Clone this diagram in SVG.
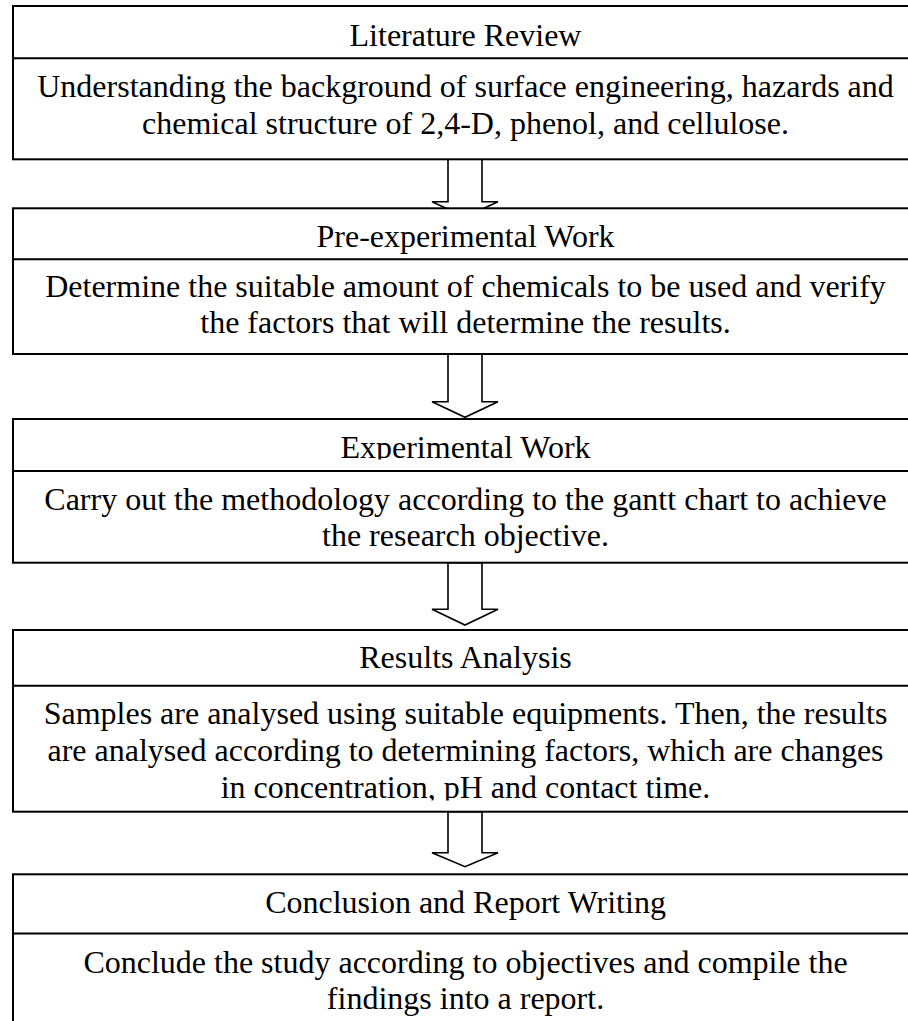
<svg xmlns="http://www.w3.org/2000/svg" width="908" height="1021" viewBox="0 0 908 1021">
<style>
.box{fill:#fff;stroke:#000;stroke-width:2}
.div{stroke:#000;stroke-width:2}
.arr{fill:#fff;stroke:#000;stroke-width:1.6;stroke-linejoin:miter}
text{font-family:"Liberation Serif","Times New Roman",serif;font-size:32px;fill:#000;text-anchor:middle}
</style>
<defs>
<clipPath id="c3"><rect x="0" y="419" width="908" height="40.6"/></clipPath>
<clipPath id="c4"><rect x="0" y="686" width="908" height="114.6"/></clipPath>
</defs>
<g id="connectors">
<polygon class="arr" points="448,158 448,201.7 432,201.7 465,217 498,201.7 482,201.7 482,158"/>
<polygon class="arr" points="448,354 448,401.7 432,401.7 465,417.3 498,401.7 482,401.7 482,354"/>
<polygon class="arr" points="448,562.7 448,609.3 432,609.3 465,625 498,609.3 482,609.3 482,562.7"/>
<polygon class="arr" points="448,811.7 448,852.7 432,852.7 465,866.7 498,852.7 482,852.7 482,811.7"/>
</g>
<g id="literature-review">
<rect class="box" x="13" y="6" width="905" height="153.3"/>
<line class="div" x1="13" y1="58.3" x2="918" y2="58.3"/>
<text x="465.5" y="46">Literature Review</text>
<text x="465.5" y="97">Understanding the background of surface engineering, hazards and</text>
<text x="465.5" y="133.5">chemical structure of 2,4-D, phenol, and cellulose.</text>
</g>
<g id="pre-experimental-work">
<rect class="box" x="13" y="208.3" width="905" height="145.7"/>
<line class="div" x1="13" y1="259.3" x2="918" y2="259.3"/>
<text x="465.5" y="246.7">Pre-experimental Work</text>
<text x="465.5" y="296.7">Determine the suitable amount of chemicals to be used and verify</text>
<text x="465.5" y="333.3">the factors that will determine the results.</text>
</g>
<g id="experimental-work">
<rect class="box" x="13" y="419" width="905" height="143.7"/>
<line class="div" x1="13" y1="471" x2="918" y2="471"/>
<text x="465.5" y="458.3" clip-path="url(#c3)">Experimental Work</text>
<text x="465.5" y="509.5">Carry out the methodology according to the gantt chart to achieve</text>
<text x="465.5" y="545.5">the research objective.</text>
</g>
<g id="results-analysis">
<rect class="box" x="13" y="630" width="905" height="181.7"/>
<line class="div" x1="13" y1="685.7" x2="918" y2="685.7"/>
<text x="465.5" y="668.3">Results Analysis</text>
<g clip-path="url(#c4)">
<text x="465.5" y="724">Samples are analysed using suitable equipments. Then, the results</text>
<text x="465.5" y="760.5">are analysed according to determining factors, which are changes</text>
<text x="465.5" y="797.7">in concentration, pH and contact time.</text>
</g>
</g>
<g id="conclusion-report-writing">
<rect class="box" x="13" y="874.3" width="905" height="160"/>
<line class="div" x1="13" y1="933.5" x2="918" y2="933.5"/>
<text x="465.5" y="913.3">Conclusion and Report Writing</text>
<text x="465.5" y="972.5">Conclude the study according to objectives and compile the</text>
<text x="465.5" y="1008.5">findings into a report.</text>
</g>
</svg>
